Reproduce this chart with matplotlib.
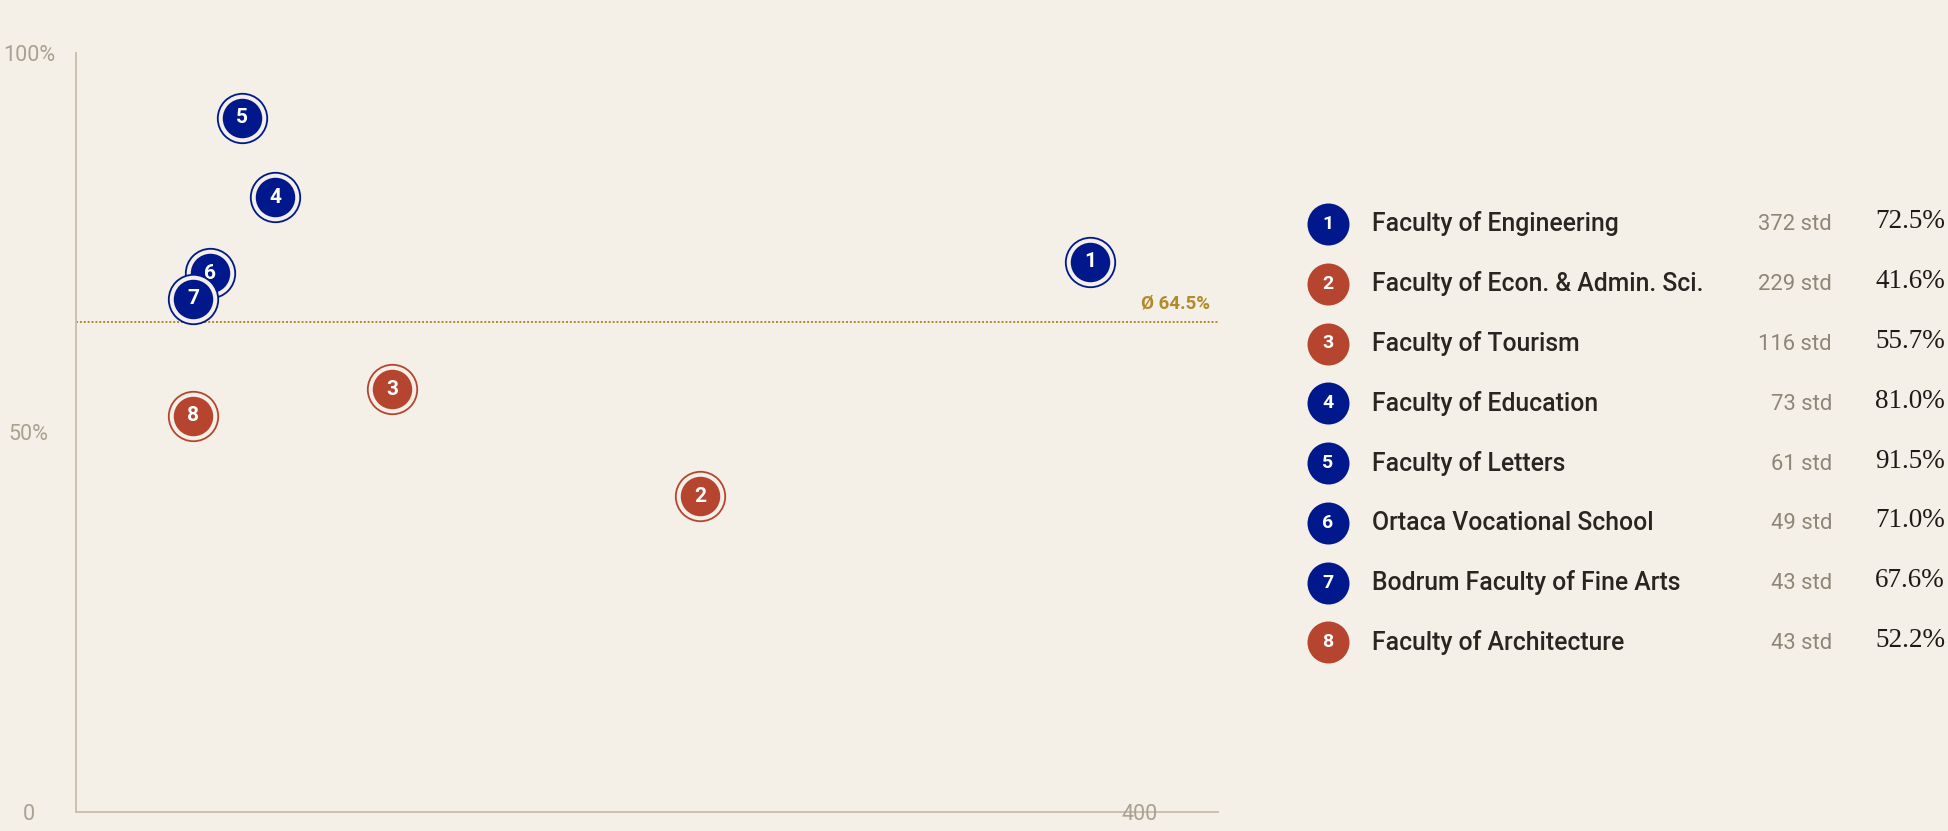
import matplotlib
matplotlib.use("Agg")
import matplotlib.pyplot as plt

# data
faculties = ["Faculty of Engineering", "Faculty of Econ. & Admin. Sci.", "Faculty of Tourism",
             "Faculty of Education", "Faculty of Letters", "Ortaca Vocational School",
             "Bodrum Faculty of Fine Arts", "Faculty of Architecture"]
students = [372, 229, 116, 73, 61, 49, 43, 43]
rates = [72.5, 41.6, 55.7, 81.0, 91.5, 71.0, 67.6, 52.2]
mean_rate = 64.5

bg = "#f4efe7"
navy = "#00188c"
red = "#b64530"
gold = "#b08a2c"
axis_col = "#c9c1ad"
tick_col = "#a9a291"

colors = [navy if r > mean_rate else red for r in rates]

W, H = 1948, 831
fig = plt.figure(figsize=(W / 100, H / 100), dpi=100, facecolor=bg)

# main scatter area
ax = fig.add_axes([76 / W, 19 / H, (1218 - 76) / W, (812 - 53) / H])
ax.set_facecolor(bg)
ax.set_xlim(0, 419)
ax.set_ylim(0, 100)
for s in ["top", "right"]:
    ax.spines[s].set_visible(False)
for s in ["left", "bottom"]:
    ax.spines[s].set_color(axis_col)
    ax.spines[s].set_linewidth(1.4)
ax.set_xticks([])
ax.set_yticks([0, 50, 100])
ax.set_yticklabels(["0", "50%", "100%"], ha="center")
ax.tick_params(axis="y", length=0, pad=34, labelsize=15.5, labelcolor=tick_col)
for lab in ax.get_yticklabels():
    lab.set_fontfamily("Roboto")
ax.annotate("400", xy=(400, 0), xycoords="data", xytext=(-6, -2), textcoords="offset points",
            ha="right", va="center", fontsize=15.5, color=tick_col, family="Roboto",
            annotation_clip=False)

# average line
ax.axhline(mean_rate, color=gold, lw=1.4, ls=(0, (1, 1)), zorder=1)
ax.annotate("Ø %.1f%%" % mean_rate, xy=(1, mean_rate), xycoords=("axes fraction", "data"),
            xytext=(-6, 14), textcoords="offset points", ha="right", va="center",
            fontsize=13.5, color=gold, fontweight="bold", family="Roboto")

# markers, later ones drawn on top
for i, (x, y, c) in enumerate(zip(students, rates, colors)):
    z = 3 + i * 3
    ax.scatter([x], [y], s=1267, facecolor=bg, edgecolor=c, linewidth=1.3, zorder=z)
    ax.scatter([x], [y], s=808, color=c, linewidth=0, zorder=z + 1)
    ax.text(x, y, str(i + 1), ha="center", va="center", color="white", fontsize=15,
            fontweight="bold", family="Roboto", zorder=z + 2)

# list on the right, in pixel coordinates
lg = fig.add_axes([0, 0, 1, 1])
lg.set_xlim(0, W)
lg.set_ylim(H, 0)
lg.axis("off")
lg.patch.set_alpha(0)
row0, step = 224, 59.75
for i, (name, n, r, c) in enumerate(zip(faculties, students, rates, colors)):
    yy = row0 + i * step
    lg.scatter([1328], [yy], s=914, color=c, linewidth=0)
    lg.text(1328, yy, str(i + 1), ha="center", va="center", color="white", fontsize=14,
            fontweight="bold", family="Roboto")
    lg.text(1372, yy, name, ha="left", va="center", color="#2a2521", fontsize=17.8,
            fontweight="medium", family="Roboto")
    lg.text(1832, yy + 1, "%d std" % n, ha="right", va="center", color="#8e8677",
            fontsize=15.8, family="Roboto")
    lg.text(1945, yy - 2, "%.1f%%" % r, ha="right", va="center", color="#1f1a17",
            fontsize=19.5, family="Liberation Serif")

fig.savefig("out.png", dpi=100, facecolor=bg)
